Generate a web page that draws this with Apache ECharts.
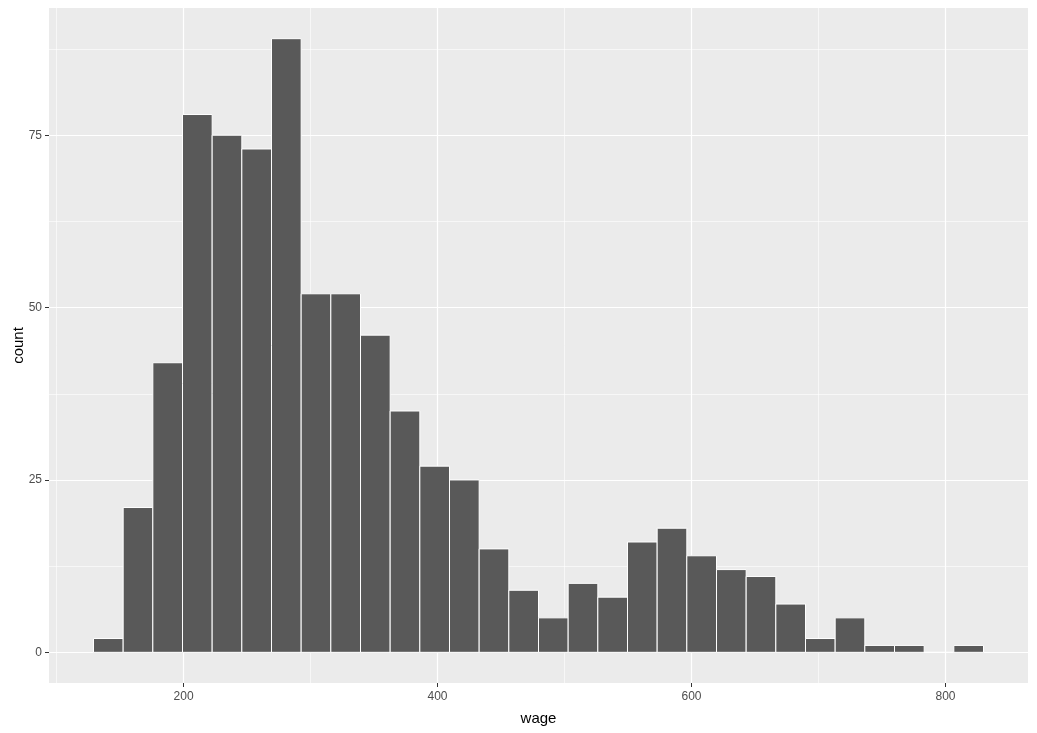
<!DOCTYPE html>
<html>
<head>
<meta charset="utf-8">
<script src="https://cdn.jsdelivr.net/npm/echarts@6/dist/echarts.min.js"></script>
<style>
html,body{margin:0;padding:0;background:#fff;}
#chart{width:1037px;height:733px;}
</style>
</head>
<body>
<div id="chart"></div>
<script>
// Histogram of wage (30 bins)
const binStart = 129.1;
const binWidth = 23.36;
const counts = [2, 21, 42, 78, 75, 73, 89, 52, 52, 46, 35, 27, 25, 15, 9, 5, 10, 8, 16, 18, 14, 12, 11, 7, 2, 5, 1, 1, 0, 1];
const xTicks = [200, 400, 600, 800];
const xMinor = [100, 300, 500, 700];
const yTicks = [0, 25, 50, 75];
const yMinor = [12.5, 37.5, 62.5, 87.5];

const binData = counts.map((c, i) => [binStart + i * binWidth, binStart + (i + 1) * binWidth, c]);

const xLo = binStart, xHi = binStart + counts.length * binWidth;
const xPad = (xHi - xLo) * 0.05;
const yMax = Math.max(...counts);
const yPad = yMax * 0.05;

const font = '"Liberation Sans", Arial, sans-serif';

const chart = echarts.init(document.getElementById('chart'));
chart.setOption({
  animation: false,
  backgroundColor: '#ffffff',
  grid: {left: 49, right: 9, top: 8, bottom: 50, show: true, backgroundColor: '#EBEBEB', borderWidth: 0, containLabel: false, outerBoundsMode: 'none'},
  xAxis: [{
    type: 'value', min: xLo - xPad, max: xHi + xPad,
    name: 'wage', nameLocation: 'middle', nameGap: 28, nameMoveOverlap: false,
    nameTextStyle: {color: '#000', fontSize: 15, fontFamily: font},
    axisLine: {show: false, onZero: false},
    axisTick: {show: true, length: 4, customValues: xTicks, lineStyle: {color: '#333', width: 1}},
    axisLabel: {customValues: xTicks, color: '#4D4D4D', fontSize: 12, fontFamily: font, margin: 8},
    splitLine: {show: true, lineStyle: {color: '#ffffff', width: 1.2}}
  }, {
    type: 'value', min: xLo - xPad, max: xHi + xPad, position: 'bottom',
    axisLine: {show: false, onZero: false},
    axisTick: {show: false, customValues: xMinor},
    axisLabel: {show: false},
    splitLine: {show: true, lineStyle: {color: '#ffffff', width: 0.6}}
  }],
  yAxis: [{
    type: 'value', min: -yPad, max: yMax + yPad,
    name: 'count', nameLocation: 'middle', nameGap: 23, nameRotate: 90, nameMoveOverlap: false,
    nameTextStyle: {color: '#000', fontSize: 15, fontFamily: font},
    axisLine: {show: false, onZero: false},
    axisTick: {show: true, length: 4, customValues: yTicks, lineStyle: {color: '#333', width: 1}},
    axisLabel: {customValues: yTicks, color: '#4D4D4D', fontSize: 12, fontFamily: font, margin: 7},
    splitLine: {show: true, lineStyle: {color: '#ffffff', width: 1.2}}
  }, {
    type: 'value', min: -yPad, max: yMax + yPad, position: 'left',
    axisLine: {show: false, onZero: false},
    axisTick: {show: false, customValues: yMinor},
    axisLabel: {show: false},
    splitLine: {show: true, lineStyle: {color: '#ffffff', width: 0.6}}
  }],
  series: [{
    type: 'custom',
    xAxisIndex: 0, yAxisIndex: 0,
    data: binData,
    encode: {x: [0, 1], y: 2},
    renderItem: function (params, api) {
      const p0 = api.coord([api.value(0), 0]);
      const p1 = api.coord([api.value(1), api.value(2)]);
      return {
        type: 'rect',
        shape: {x: p0[0], y: p1[1], width: p1[0] - p0[0], height: p0[1] - p1[1]},
        style: {fill: '#595959', stroke: '#ffffff', lineWidth: 1}
      };
    }
  }]
});
</script>
</body>
</html>
